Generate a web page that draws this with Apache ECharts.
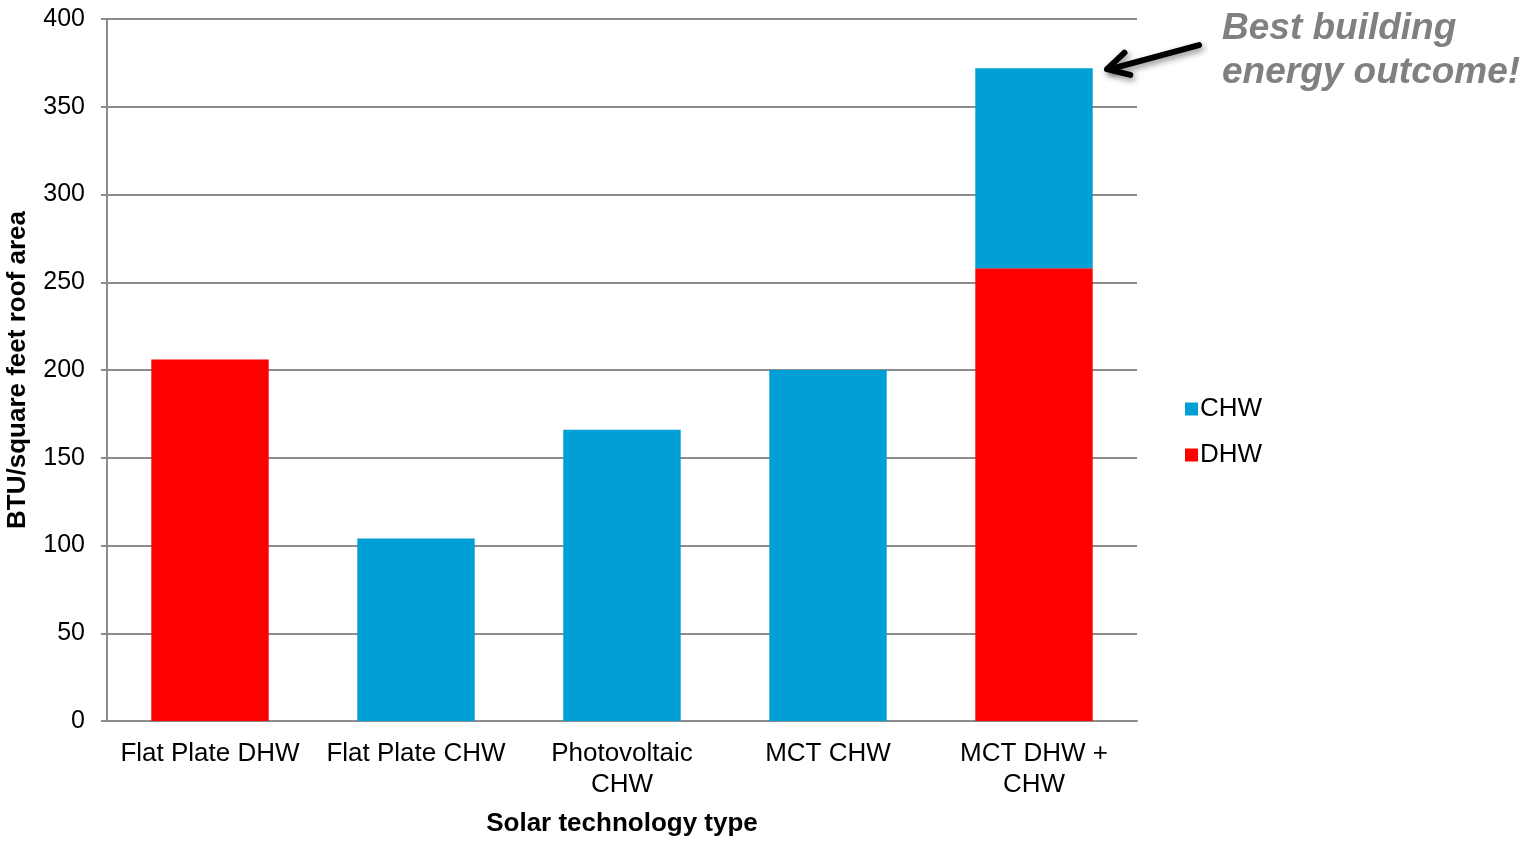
<!DOCTYPE html>
<html>
<head>
<meta charset="utf-8">
<script src="https://cdn.jsdelivr.net/npm/echarts@6/dist/echarts.min.js"></script>
<style>
  html, body { margin: 0; padding: 0; background: #fff; }
  #chart { width: 1527px; height: 843px; }
</style>
</head>
<body>
<div id="chart"></div>
<script>
// Solar technology options and their energy yield per roof area
const categories = ['Flat Plate DHW', 'Flat Plate CHW', 'Photovoltaic\nCHW', 'MCT CHW', 'MCT DHW +\nCHW'];
const dhwValues = [206, null, null, null, 258];
const chwValues = [null, 104, 166, 200, 114];
const yTicks = { min: 0, max: 400, interval: 50 };
const calloutText = 'Best building\nenergy outcome!';

const FONT = '"Liberation Sans", Arial, sans-serif';
const chart = echarts.init(document.getElementById('chart'), null, { renderer: 'canvas' });

chart.setOption({
  animation: false,
  grid: { left: 107, right: 390, top: 19, bottom: 122, containLabel: false, outerBoundsMode: 'none' },
  legend: {
    data: ['CHW', 'DHW'],
    orient: 'vertical',
    left: 1180,
    top: 391,
    itemWidth: 13,
    itemHeight: 13,
    itemGap: 20,
    icon: 'rect',
    textStyle: { fontFamily: FONT, fontSize: 26, color: '#000', padding: [0, 0, 0, -3] }
  },
  xAxis: {
    type: 'category',
    data: categories,
    name: 'Solar technology type',
    nameLocation: 'middle',
    nameGap: 90,
    nameTextStyle: { fontFamily: FONT, fontSize: 26, fontWeight: 'bold', color: '#000' },
    axisLine: { lineStyle: { color: '#8c8c8c', width: 2 } },
    axisTick: { show: false },
    axisLabel: { fontFamily: FONT, fontSize: 26, color: '#000', margin: 17, lineHeight: 31, interval: 0 }
  },
  yAxis: {
    type: 'value',
    min: yTicks.min,
    max: yTicks.max,
    interval: yTicks.interval,
    name: 'BTU/square feet roof area',
    nameLocation: 'middle',
    nameGap: 76,
    nameTextStyle: { fontFamily: FONT, fontSize: 26, fontWeight: 'bold', color: '#000' },
    axisLine: { show: true, lineStyle: { color: '#8c8c8c', width: 2 } },
    axisTick: { show: true, length: 6, lineStyle: { color: '#8c8c8c', width: 2 } },
    axisLabel: { fontFamily: FONT, fontSize: 25, color: '#000', margin: 22 },
    splitLine: { lineStyle: { color: '#8c8c8c', width: 2 } }
  },
  series: [
    {
      name: 'DHW', type: 'bar', stack: 'total', data: dhwValues,
      barWidth: '57%', itemStyle: { color: '#ff0000' }
    },
    {
      name: 'CHW', type: 'bar', stack: 'total', data: chwValues,
      barWidth: '57%', itemStyle: { color: '#009fd6' }
    }
  ]
});

// Callout arrow pointing at the top of the tallest stacked bar
const lastIdx = categories.length - 1;
const total = dhwValues[lastIdx] + chwValues[lastIdx];
const tip = chart.convertToPixel({ gridIndex: 0 }, [lastIdx, total]);
const barHalf = 59;
const tipX = tip[0] + barHalf + 14;
const tipY = tip[1] + 1;
const tailX = tipX + 92;
const tailY = tipY - 24;
const ang = Math.atan2(tailY - tipY, tailX - tipX);
const headLen = 24, headSpread = 0.5;
const h1 = [tipX + headLen * Math.cos(ang + headSpread), tipY + headLen * Math.sin(ang + headSpread)];
const h2 = [tipX + headLen * Math.cos(ang - headSpread), tipY + headLen * Math.sin(ang - headSpread)];
const arrowStyle = {
  stroke: '#000', lineWidth: 6, lineCap: 'round', lineJoin: 'round', fill: null,
  shadowBlur: 6, shadowColor: 'rgba(0,0,0,0.45)', shadowOffsetX: 2, shadowOffsetY: 3
};

chart.setOption({
  graphic: [
    { type: 'line', shape: { x1: tailX, y1: tailY, x2: tipX + 3, y2: tipY }, style: arrowStyle },
    { type: 'polyline', shape: { points: [h1, [tipX, tipY], h2] }, style: arrowStyle },
    {
      type: 'text', left: 1222, top: 7,
      style: {
        text: calloutText, fontFamily: FONT, fontSize: 37, fontWeight: 'bold',
        fontStyle: 'italic', fill: '#808080', lineHeight: 44
      }
    }
  ]
});
</script>
</body>
</html>
